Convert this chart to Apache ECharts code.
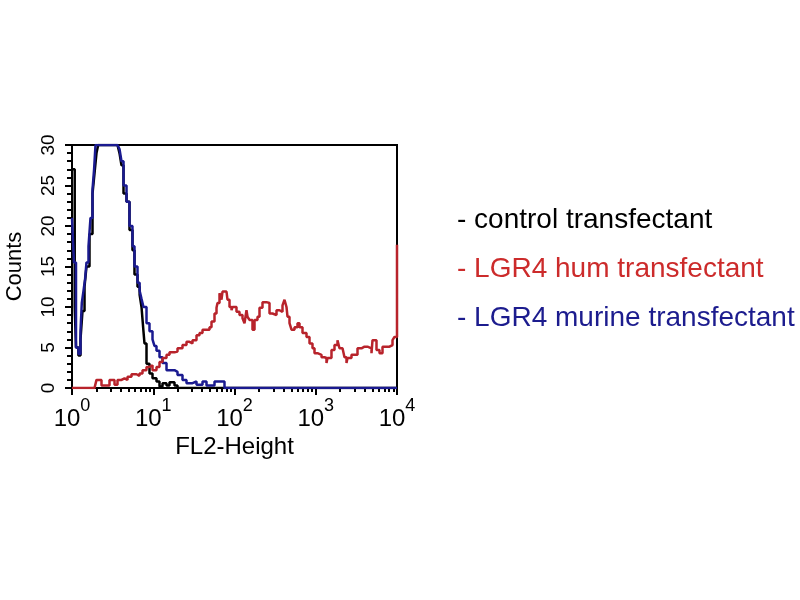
<!DOCTYPE html>
<html>
<head>
<meta charset="utf-8">
<script src="https://cdn.jsdelivr.net/npm/echarts@6/dist/echarts.min.js"></script>
<style>html,body{margin:0;padding:0;background:#fff}#c{width:800px;height:600px}</style>
</head>
<body>
<div id="c"></div>
<script>
// ---- data ----
const seriesNames = ['control transfectant', 'LGR4 hum transfectant', 'LGR4 murine transfectant'];
const xTickExps = ['0', '1', '2', '3', '4'];
const yTicks = [0, 5, 10, 15, 20, 25, 30];

const controlX = [1.0, 1.08, 1.12, 1.20, 1.272, 1.346, 1.426, 1.508, 1.642, 1.788, 1.892, 2.002, 2.1, 3.631, 3.842, 4.065, 4.305, 4.69, 5.10, 5.55, 5.875, 6.40, 6.80, 7.17, 7.58, 7.80, 8.26, 8.99, 9.79, 10.96, 11.94, 13.0, 14.56, 15.85, 18.26, 19.89, 10000];
const controlY = [27, 10, 5, 4, 6, 9.5, 12.5, 15, 19, 24, 26.5, 29, 30, 30, 29, 27.5, 24, 23, 19.5, 17, 14, 12.5, 11.5, 10, 7, 5.5, 3, 1.8, 1.2, 0.8, 0.2, 0.6, 0.3, 0.7, 0.3, 0, 0];

const humX = [1.0, 1.892, 2.002, 2.307, 2.659, 2.894, 3.336, 3.631, 4.067, 4.429, 4.822, 5.399, 6.221, 6.772, 7.375, 8.257, 8.992, 9.790, 10.96, 11.94, 13.00, 14.56, 15.85, 18.26, 19.89, 22.91, 25.66, 27.94, 30.42, 34.07, 37.10, 40.39, 45.23, 49.24, 52.12, 56.74, 60.06, 61.78, 65.39, 69.18, 71.17, 79.70, 82.0, 86.8, 91.9, 94.5, 105.8, 115.2, 125.5, 132.8, 140.5, 144.5, 152.9, 166.5, 176.3, 191.9, 203.1, 221.1, 247.6, 269.7, 293.7, 328.8, 357.9, 389.8, 412.5, 436.5, 449.1, 475.3, 502.9, 547.6, 596.2, 631.0, 687.0, 769.5, 837.8, 912.0, 965.2, 1051, 1177, 1281, 1356, 1395, 1562, 1701, 1852, 1960, 2135, 2259, 2391, 2460, 2754, 2999, 3265, 3657, 3981, 4335, 4856, 4995, 5594, 6091, 6632, 7429, 8086, 8805, 9316, 10000];
const humY = [0, 0, 1.0, 0.3, 0.3, 1.0, 0.4, 1.0, 1.2, 1.0, 1.4, 1.7, 1.5, 1.8, 2.2, 2.6, 2.8, 2.2, 2.6, 3.2, 3.7, 4.1, 4.4, 4.5, 4.9, 5.3, 5.7, 5.5, 5.9, 6.5, 6.8, 7.2, 7.2, 7.5, 8.2, 9.2, 9.9, 10.5, 11.7, 10.9, 11.9, 11.7, 10.9, 10.0, 9.6, 10.0, 9.4, 9.0, 8.6, 8.0, 9.6, 8.8, 8.4, 7.2, 8.4, 8.8, 9.9, 10.6, 10.5, 9.2, 9.0, 9.6, 9.4, 10.2, 10.9, 10.0, 8.8, 8.0, 7.2, 7.5, 8.0, 7.5, 6.8, 6.3, 5.5, 4.9, 4.3, 4.1, 3.8, 3.7, 3.1, 3.7, 4.7, 5.3, 5.9, 4.9, 4.7, 3.8, 3.1, 3.7, 4.1, 4.1, 4.9, 5.1, 5.1, 4.9, 4.3, 5.9, 4.7, 4.3, 5.1, 5.1, 5.3, 5.9, 6.3, 17.7];

const murineX = [1.0, 1.058, 1.12, 1.20, 1.272, 1.32, 1.385, 1.45, 1.508, 1.596, 1.689, 1.788, 1.87, 1.946, 3.631, 3.842, 4.065, 4.305, 4.69, 5.10, 5.55, 5.875, 6.40, 6.80, 7.17, 7.58, 8.26, 8.99, 9.79, 10.35, 10.96, 11.94, 13.0, 14.56, 18.26, 19.89, 22.91, 25.66, 30.42, 34.07, 40.39, 45.23, 56.74, 65.39, 75.3, 10000];
const murineY = [21, 15.5, 5, 4.2, 7, 10.5, 12, 13.5, 15.5, 17.5, 21, 24.5, 27, 30, 30, 29.5, 28, 25, 23, 20, 17.5, 15, 13, 12, 11, 10, 8, 7, 6, 5.2, 4.6, 3.8, 3.1, 2.2, 2.0, 1.6, 1.0, 0.6, 0.8, 0.4, 0.8, 0.3, 0.8, 0.8, 0, 0];

const lineColors = ['#000000', '#b8232b', '#1a1a90'];
const legendColors = ['#000000', '#cc2b2b', '#1c1c8e'];

// ---- chart ----
const pair = (xs, ys) => xs.map((x, i) => [x, ys[i]]);
const SANS = '"Liberation Sans", Arial, sans-serif';

const chart = echarts.init(document.getElementById('c'), null, { renderer: 'canvas' });
const option = {
  animation: false,
  backgroundColor: '#ffffff',
  grid: { left: 72, right: 403, top: 145, bottom: 212, show: true, borderColor: '#000', borderWidth: 2, backgroundColor: 'transparent' },
  xAxis: {
    type: 'log', logBase: 10, min: 1, max: 10000,
    name: 'FL2-Height', nameLocation: 'middle', nameGap: 47,
    nameTextStyle: { fontFamily: SANS, fontSize: 24, color: '#000' },
    axisLine: { lineStyle: { color: '#000', width: 2 } },
    axisTick: { length: 7, lineStyle: { color: '#000', width: 2 } },
    minorTick: { show: true, splitNumber: 9, length: 4, lineStyle: { color: '#000', width: 2 } },
    splitLine: { show: false }, minorSplitLine: { show: false },
    axisLabel: {
      margin: 9,
      formatter: function (v) {
        const e = xTickExps[Math.round(Math.log10(v))];
        return '{b|10}{s|' + e + '}';
      },
      rich: {
        b: { fontFamily: SANS, fontSize: 24, color: '#000', lineHeight: 34, verticalAlign: 'bottom' },
        s: { fontFamily: SANS, fontSize: 18, color: '#000', lineHeight: 18, verticalAlign: 'top' }
      }
    }
  },
  yAxis: {
    type: 'value', min: yTicks[0], max: yTicks[yTicks.length - 1], interval: 5,
    name: 'Counts', nameLocation: 'middle', nameGap: 46,
    nameTextStyle: { fontFamily: SANS, fontSize: 22, color: '#000' },
    axisLine: { show: true, lineStyle: { color: '#000', width: 2 } },
    axisTick: { show: true, length: 7, lineStyle: { color: '#000', width: 2 } },
    minorTick: { show: true, splitNumber: 5, length: 5, lineStyle: { color: '#000', width: 2 } },
    splitLine: { show: false }, minorSplitLine: { show: false },
    axisLabel: { rotate: 90, margin: 14, fontFamily: SANS, fontSize: 19, color: '#000' }
  },
  legend: {
    orient: 'vertical', left: 447, top: 201, itemGap: 21, itemWidth: 0, itemHeight: 28,
    icon: 'none', selectedMode: false,
    formatter: n => '- ' + n,
    textStyle: { fontFamily: SANS, fontSize: 28 },
    data: seriesNames.map((n, i) => ({ name: n, textStyle: { color: legendColors[i] } }))
  },
  series: [
    { name: seriesNames[0], type: 'line', step: 'end', showSymbol: false, data: pair(controlX, controlY), lineStyle: { color: lineColors[0], width: 2.5 }, itemStyle: { color: lineColors[0] }, z: 2 },
    { name: seriesNames[2], type: 'line', step: 'end', showSymbol: false, data: pair(murineX, murineY), lineStyle: { color: lineColors[2], width: 2.5 }, itemStyle: { color: lineColors[2] }, z: 3 },
    { name: seriesNames[1], type: 'line', step: 'end', showSymbol: false, data: pair(humX, humY), lineStyle: { color: lineColors[1], width: 2.5 }, itemStyle: { color: lineColors[1] }, z: 4 }
  ]
};
chart.setOption(option);
</script>
</body>
</html>
